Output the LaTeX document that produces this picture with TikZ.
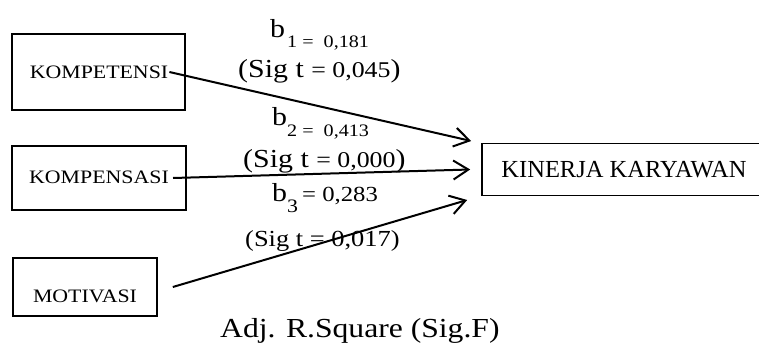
\documentclass[tikz,border=0pt]{standalone}
\usepackage{fontspec}
\setmainfont{Liberation Serif}
\newfontfamily\widefont[FakeStretch=1.15]{Liberation Serif}
\usetikzlibrary{arrows.meta}
\newcommand\fsz[1]{\fontsize{#1}{#1}\selectfont}
\begin{document}
\begin{tikzpicture}[x=1pt,y=-1pt,
  box/.style={draw,line width=1.6pt,inner sep=0pt},
  lbl/.style={inner sep=0pt,font={\widefont\fsz{19}}},
  conn/.style={line width=2pt,-{Straight Barb[length=15pt,width=19pt,line width=2pt]}},
  txt/.style={inner sep=0pt,anchor=base west}]
\useasboundingbox (0,0) rectangle (759,348);
% boxes
\node[box,minimum width=173pt,minimum height=76pt] (kompetensi) at (98.5,72) {};
\node[lbl] (kompetensiT) at (99,72) {KOMPETENSI};
\node[box,minimum width=174pt,minimum height=64pt] (kompensasi) at (99,178) {};
\node[lbl] (kompensasiT) at (99,177.5) {KOMPENSASI};
\node[box,minimum width=144pt,minimum height=58pt] (motivasi) at (85,287) {};
\node[lbl] (motivasiT) at (85,296.5) {MOTIVASI};
\node[box,minimum width=288pt,minimum height=52pt] (kinerja) at (626,169.5) {};
\node[inner sep=0pt,font=\fsz{24.5}] (kinerjaT) at (624,169.5) {KINERJA KARYAWAN};
% connectors
\draw[conn] ([xshift=1pt]kompetensiT.east) -- ([xshift=-10pt,yshift=28.5pt]kinerja.west);
\draw[conn] ([xshift=4pt,yshift=-0.5pt]kompensasiT.east) -- ([xshift=-11pt]kinerja.west);
\draw[conn] ([xshift=15pt]motivasi.east) -- ([xshift=-14pt,yshift=-30.5pt]kinerja.west);
% labels
\node[txt,font={\widefont\fsz{26}}] (b1) at (270,37) {b};
\node[txt,font={\widefont\fsz{17.5}}] (b1s) at (287,47) {1 =\ \ 0,181};
\node[txt,font={\widefont\fsz{26}}] (sig1) at (238,77) {(Sig t {\fsz{22.5}= 0,045})};
\node[txt,font={\widefont\fsz{26}}] (b2) at (272,125) {b};
\node[txt,font={\widefont\fsz{17.5}}] (b2s) at (287,136) {2 =\ \ 0,413};
\node[txt,font={\widefont\fsz{26}}] (sig2) at (243,167) {(Sig t {\fsz{22.5}= 0,000})};
\node[txt,font={\widefont\fsz{26}}] (b3) at (272,201) {b};
\node[txt,font={\widefont\fsz{19}}] (b3s) at (287,212) {3};
\node[txt,font={\widefont\fsz{21.5}}] (b3v) at (302,201) {= 0,283};
\node[txt,font={\widefont\fsz{23}}] (sig3) at (245,246) {(Sig t = 0,017)};
\node[txt,font={\widefont\fsz{27.5}}] (adj) at (220,337) {Adj. R.Square (Sig.F)};
\end{tikzpicture}
\end{document}
